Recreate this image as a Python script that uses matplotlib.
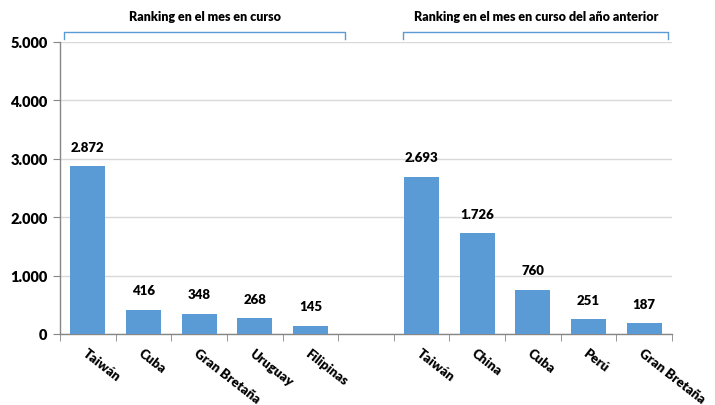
import numpy as np
import matplotlib.pyplot as plt
from matplotlib.ticker import FuncFormatter
import matplotlib.transforms as mtransforms

plt.rcParams['font.family'] = ['Lato', 'DejaVu Sans']
plt.rcParams['font.weight'] = 'bold'

# data
paises_actual = ["Taiwán", "Cuba", "Gran Bretaña", "Uruguay", "Filipinas"]
valores_actual = [2872, 416, 348, 268, 145]
paises_anterior = ["Taiwán", "China", "Cuba", "Perú", "Gran Bretaña"]
valores_anterior = [2693, 1726, 760, 251, 187]
titulos = ["Ranking en el mes en curso", "Ranking en el mes en curso del año anterior"]

bar_color = "#5B9BD5"
axis_color = "#868686"

labels = paises_actual + [""] + paises_anterior
values = valores_actual + [np.nan] + valores_anterior
x = np.arange(len(labels))

fig = plt.figure(figsize=(7.15, 4.06), dpi=100)
ax = fig.add_axes([60 / 715, 1 - 335 / 406, 612 / 715, 292 / 406])

ax.bar(x, values, width=0.63, color=bar_color, zorder=3)

for xi, v in zip(x, values):
    if np.isnan(v):
        continue
    ax.annotate(f"{v:,.0f}".replace(",", "."), (xi, v), xytext=(0, 14),
                textcoords="offset points", ha="center", va="center",
                fontsize=9.5, fontweight="heavy")

ax.set_xlim(-0.5, len(labels) - 0.5)
ax.set_ylim(0, 5000)
ax.set_yticks(np.arange(0, 5001, 1000))
ax.yaxis.set_major_formatter(FuncFormatter(lambda v, p: f"{v:,.0f}".replace(",", ".")))
ax.grid(axis="y", color="#d9d9d9", linewidth=1, zorder=0)

ax.set_xticks(x)
ax.set_xticklabels(labels, rotation=-38, ha="left", va="top",
                   rotation_mode="anchor", fontsize=9.5, fontweight="heavy")
ax.set_xticks(np.arange(-0.5, len(labels)), minor=True)
ax.tick_params(axis="x", which="major", length=0, pad=9)
ax.tick_params(axis="x", which="minor", length=5, color=axis_color, direction="out")
ax.tick_params(axis="y", length=5, color=axis_color, labelsize=10.5, pad=4)
for lbl in ax.get_yticklabels():
    lbl.set_fontweight("heavy")

for s in ["top", "right"]:
    ax.spines[s].set_visible(False)
for s in ["left", "bottom"]:
    ax.spines[s].set_color(axis_color)
    ax.spines[s].set_linewidth(1)

# brackets above each group
trans = mtransforms.blended_transform_factory(ax.transData, ax.transAxes)
for (x0, x1), titulo in zip([(-0.43, 4.63), (5.67, 10.43)], titulos):
    ax.plot([x0, x0, x1, x1], [1.010, 1.034, 1.034, 1.010], color=bar_color,
            linewidth=1, transform=trans, clip_on=False)
    ax.text((x0 + x1) / 2, 1.088, titulo, transform=trans, ha="center",
            va="center", fontsize=9, fontweight="heavy")

fig.savefig("out.png", dpi=100)
